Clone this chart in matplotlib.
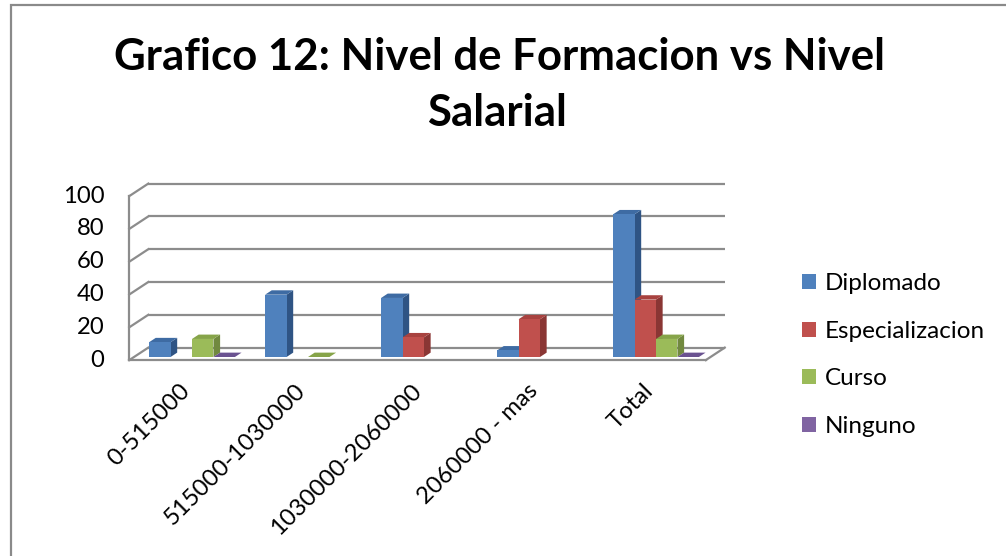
import numpy as np
import matplotlib
matplotlib.use('Agg')
import matplotlib.pyplot as plt
from matplotlib.patches import Polygon, Rectangle

# ---------------- data ----------------
categories = ['0-515000', '515000-1030000', '1030000-2060000', '2060000 - mas', 'Total']
series_names = ['Diplomado', 'Especializacion', 'Curso', 'Ninguno']
diplomado = [9, 38, 36, 4, 87]
especializacion = [np.nan, np.nan, 12, 23, 35]
curso = [11, 0, np.nan, np.nan, 11]
ninguno = [0, np.nan, np.nan, np.nan, 0]
y_ticks = [0, 20, 40, 60, 80, 100]
title_lines = ['Grafico 12: Nivel de Formacion vs Nivel', 'Salarial']

series_values = [diplomado, especializacion, curso, ninguno]
front_colors = ['#4F81BD', '#C0504D', '#9BBB59', '#8064A2']
top_colors = ['#3E6BA3', '#A8423F', '#86A449', '#6A5290']
side_colors = ['#2F5484', '#8A3634', '#71893F', '#5A4574']

# ---------------- figure ----------------
W, H, DPI = 1006, 556, 100
plt.rcParams['font.family'] = ['Lato', 'DejaVu Sans']
fig = plt.figure(figsize=(W / DPI, H / DPI), dpi=DPI)
fig.patch.set_facecolor('white')

# outer border (gray), open on right/bottom like the reference
fig.patches.append(Rectangle((11 / W, -0.1), 1.2, 1 - 5 / H + 0.1, transform=fig.transFigure,
                             fill=False, edgecolor='#8a8a8a', linewidth=1.6))

# axes: bar plane in data coordinates
x0_px, step_px = 192, 116
zero_px, per100_px = 357, 164
xlim = (-0.6, 4.6)
left_px = x0_px + xlim[0] * step_px
right_px = x0_px + xlim[1] * step_px
ax = fig.add_axes([left_px / W, (H - zero_px) / H, (right_px - left_px) / W, per100_px / H])
ax.set_xlim(*xlim)
ax.set_ylim(0, 100)
ax.axis('off')

def px(dx, dy):
    """pixel offset (dy positive = up) -> data offset"""
    return dx / step_px, dy * 100.0 / per100_px

depth = np.array([19.0, 12.5])
fdx, fdy = px(*(-0.25 * depth))   # front plane
bdx_, bdy_ = px(*(0.75 * depth))  # back plane
cdx, cdy = px(*(0.35 * depth))    # bar depth

xL, xR = -0.5, 4.47
gcol = '#8c8c8c'
glw = 1.6
# back wall gridlines + left wall diagonals
for v in y_ticks:
    ax.plot([xL + bdx_, xR + bdx_], [v + bdy_, v + bdy_], color=gcol, lw=glw, zorder=1,
            clip_on=False, solid_capstyle='butt')
    ax.plot([xL + fdx, xL + bdx_], [v + fdy, v + bdy_], color=gcol, lw=glw, zorder=1, clip_on=False)
# front-left vertical
ax.plot([xL + fdx, xL + fdx], [fdy, 100 + fdy], color=gcol, lw=glw, zorder=1, clip_on=False)
# floor front edge and right edge
ax.plot([xL + fdx, xR + fdx], [fdy, fdy], color=gcol, lw=glw, zorder=1, clip_on=False)
ax.plot([xR + fdx, xR + bdx_], [fdy, bdy_], color=gcol, lw=glw, zorder=1, clip_on=False)

tick_fs = 17.2

# y tick labels
for v in y_ticks:
    ax.text(xL + fdx - 25 / step_px, v + fdy, str(v), ha='right', va='center',
            fontsize=tick_fs, color='black', clip_on=False)

# bars
bw = 0.185
n = len(series_names)
xs_base = np.arange(len(categories))
for k in range(n):
    xs = xs_base + (k - (n - 1) / 2) * bw
    vals = np.array(series_values[k], dtype=float)
    cont = ax.bar(xs, vals, width=bw, color=front_colors[k], linewidth=0, clip_on=False,
                  label=series_names[k])
    for i, (patch, x, v) in enumerate(zip(cont.patches, xs, vals)):
        j = i * n + k
        zb = 3 + 0.01 * j
        patch.set_zorder(zb + 0.005)
        if np.isnan(v):
            continue
        side = Polygon([(x + bw / 2, 0), (x + bw / 2 + cdx, cdy), (x + bw / 2 + cdx, v + cdy),
                        (x + bw / 2, v)], closed=True, facecolor=side_colors[k], edgecolor='none',
                       zorder=zb, clip_on=False)
        top = Polygon([(x - bw / 2, v), (x + bw / 2, v), (x + bw / 2 + cdx, v + cdy),
                       (x - bw / 2 + cdx, v + cdy)], closed=True, facecolor=top_colors[k],
                      edgecolor='none', zorder=zb + 0.001, clip_on=False)
        ax.add_patch(side)
        ax.add_patch(top)

# x category labels
for i, c in enumerate(categories):
    ax.text(i - 13 / step_px, -23 * 100 / per100_px, c, rotation=45, ha='right', va='top',
            rotation_mode='anchor', fontsize=tick_fs, color='black', clip_on=False)

# title
fig.text(499 / W, 1 - 70 / H, title_lines[0], ha='center', va='baseline', fontsize=31.5,
         fontweight='bold', color='black')
fig.text(497 / W, 1 - 126 / H, title_lines[1], ha='center', va='baseline', fontsize=31.5,
         fontweight='bold', color='black')

# legend
handles = [Rectangle((0, 0), 1, 1, facecolor=c, edgecolor='none') for c in front_colors]
fig.legend(handles, series_names, loc='upper left', bbox_to_anchor=(802 / W, 1 - 273 / H),
           frameon=False, fontsize=17.5, handlelength=0.58, handleheight=0.58,
           handletextpad=0.35, labelspacing=1.1, borderpad=0, borderaxespad=0)

fig.savefig('out.png', dpi=DPI, facecolor='white')
